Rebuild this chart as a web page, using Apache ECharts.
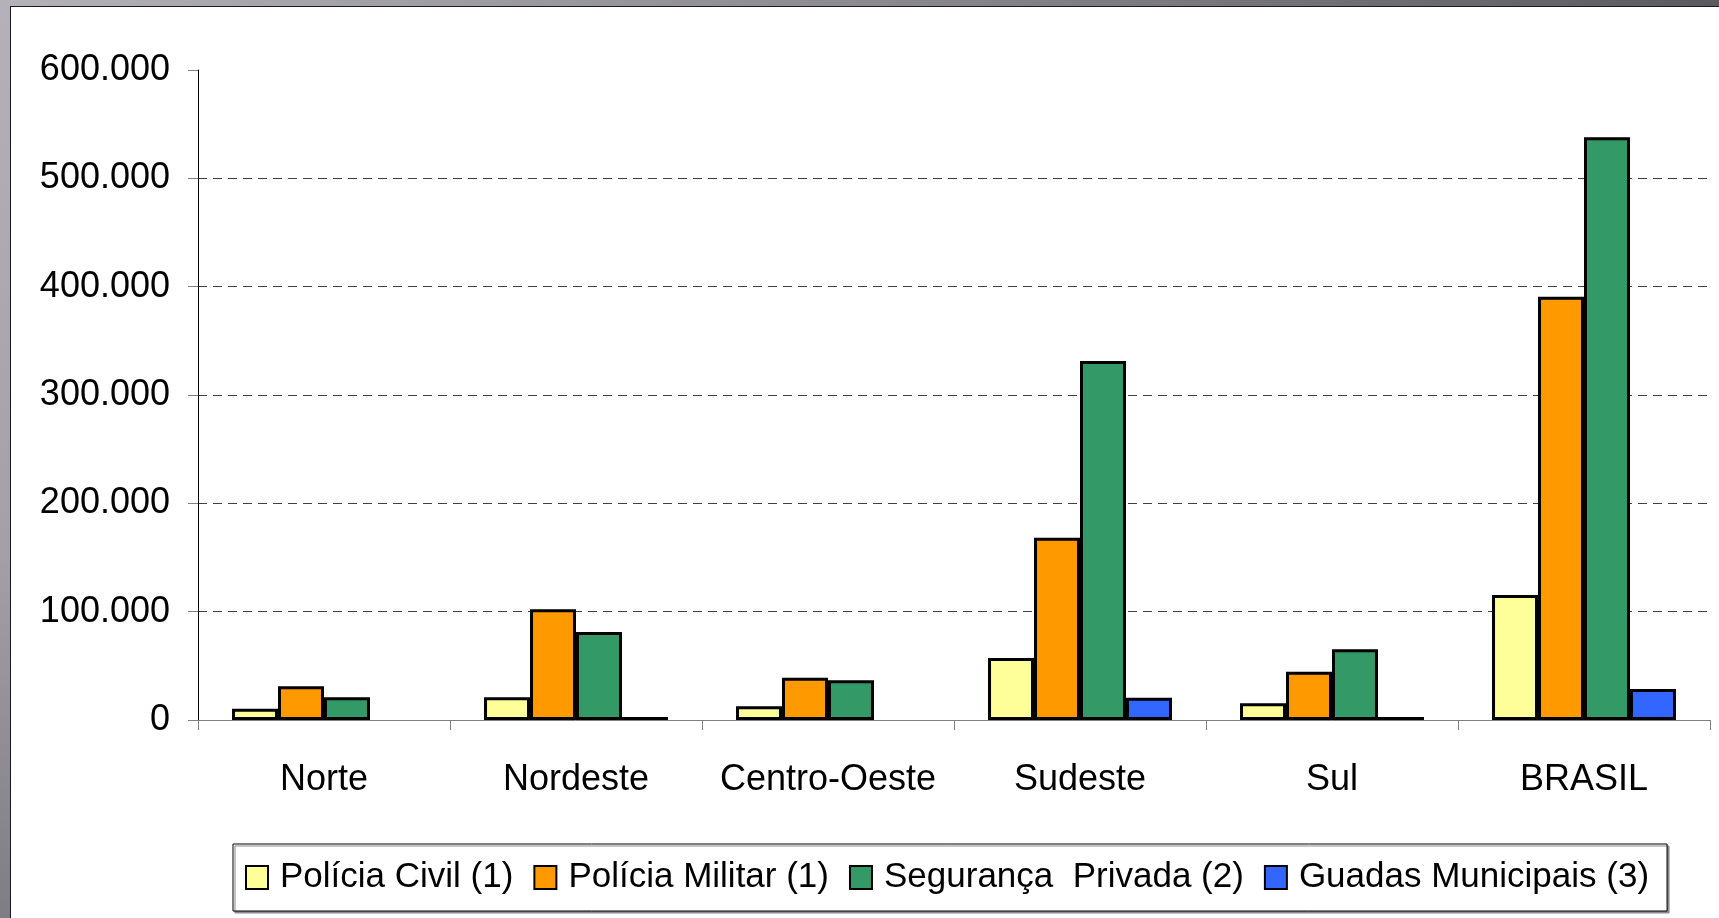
<!DOCTYPE html>
<html>
<head>
<meta charset="utf-8">
<script src="https://cdn.jsdelivr.net/npm/echarts@6/dist/echarts.min.js"></script>
<style>
  html, body { margin: 0; padding: 0; width: 1719px; height: 918px; overflow: hidden; }
  body { position: relative; background: linear-gradient(to right, #b4b2b8 0%, #8c8a90 50%, #5c5a61 100%); }
  #leftband { position: absolute; left: 0; top: 0; width: 10px; height: 918px; background: linear-gradient(to bottom, #b4b2b8 0%, #a3a1a7 60%, #7f7d84 100%); }
  #panel { position: absolute; left: 10px; top: 6px; width: 1709px; height: 912px; background: #fff; border-left: 1px solid #1a1a1a; border-top: 1px solid #1a1a1a; box-sizing: border-box; }
  #chart { position: absolute; left: 0; top: 0; width: 1719px; height: 918px; }
</style>
</head>
<body>
<div id="leftband"></div>
<div id="panel"></div>
<div id="chart"></div>
<script>
const categories = ['Norte', 'Nordeste', 'Centro-Oeste', 'Sudeste', 'Sul', 'BRASIL'];
const seriesNames = ['Polícia Civil (1)', 'Polícia Militar (1)', 'Segurança  Privada (2)', 'Guadas Municipais (3)'];
const policiaCivil = [10500, 21000, 12600, 57200, 15400, 115400];
const policiaMilitar = [31100, 102200, 39000, 168300, 44600, 390600];
const segurancaPrivada = [21000, 81300, 36600, 331500, 65300, 538000];
const guardasMunicipais = [null, 2800, null, 20600, 2800, 28600];
const seriesColors = ['#FFFF99', '#FF9900', '#339966', '#3366FF'];
const yMin = 0, yMax = 600000, yStep = 100000;

const FONT = '"Liberation Sans", Arial, sans-serif';
const chart = echarts.init(document.getElementById('chart'), null, { renderer: 'canvas' });

function fmt(v) {
  if (v === 0) return '0';
  return String(v).replace(/\B(?=(\d{3})+(?!\d))/g, '.');
}

const dataSets = [policiaCivil, policiaMilitar, segurancaPrivada, guardasMunicipais];

chart.setOption({
  backgroundColor: 'transparent',
  animation: false,
  grid: { left: 198, right: 9, top: 70, bottom: 198, containLabel: false },
  legend: {
    left: 233,
    top: 844,
    itemWidth: 22,
    itemHeight: 23,
    itemGap: 20,
    padding: [16, 18, 16, 12],
    backgroundColor: '#fff',
    borderColor: '#000',
    borderWidth: 1,
    shadowColor: '#8a8a8a',
    shadowOffsetX: 2,
    shadowOffsetY: 2,
    shadowBlur: 0,
    icon: 'rect',
    textStyle: { fontFamily: FONT, fontSize: 35, color: '#000', padding: [0, 0, 0, 7] },
    data: seriesNames
  },
  xAxis: {
    type: 'category',
    data: categories,
    axisLine: { lineStyle: { color: '#808080', width: 1 } },
    axisTick: { show: true, length: 10, lineStyle: { color: '#808080' } },
    axisLabel: { interval: 0, fontFamily: FONT, fontSize: 36, color: '#000', margin: 42 }
  },
  yAxis: {
    type: 'value',
    min: yMin, max: yMax, interval: yStep,
    axisLine: { show: true, lineStyle: { color: '#000', width: 1 } },
    axisTick: { show: true, length: 10, lineStyle: { color: '#808080' } },
    axisLabel: { fontFamily: FONT, fontSize: 36, color: '#000', margin: 28, formatter: fmt },
    splitLine: { show: true, showMinLine: false, showMaxLine: false, lineStyle: { color: '#404040', width: 1, type: [9, 6] } }
  },
  series: seriesNames.map((name, i) => ({
    name: name,
    type: 'bar',
    data: dataSets[i],
    barGap: '0%',
    barCategoryGap: '27%',
    itemStyle: { color: seriesColors[i], borderColor: '#000', borderWidth: 3 }
  }))
});
</script>
</body>
</html>
